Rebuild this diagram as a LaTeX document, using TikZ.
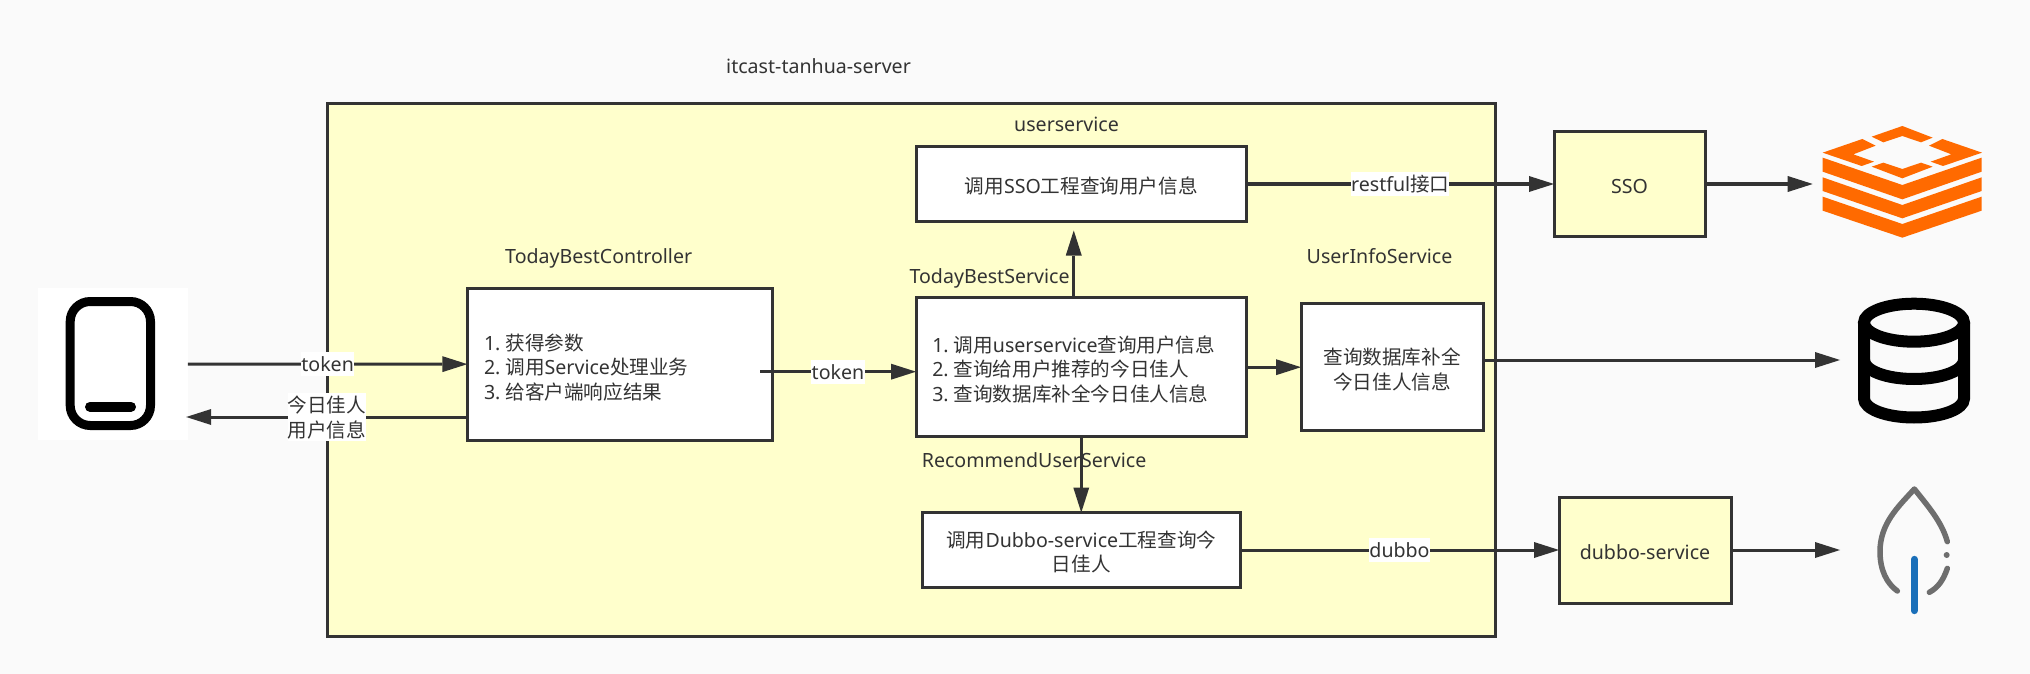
\documentclass[tikz,border=0pt]{standalone}
\usepackage{fontspec}
\setmainfont{Noto Sans}
\newfontfamily\cjk{Noto Sans CJK SC}
\newcommand{\zh}[1]{{\cjk #1}}
\newcommand{\topst}{\rule{0pt}{24pt}}
\newcommand{\botst}{\rule[-4.5pt]{0pt}{0pt}}
\newcommand{\ltop}{\rule{0pt}{19pt}}
\newcommand{\lbot}{\rule[-4pt]{0pt}{0pt}}
\newcommand{\num}[1]{#1.\hspace{5pt}}
\usetikzlibrary{arrows.meta}
\definecolor{ink}{HTML}{333333}
\definecolor{paper}{HTML}{FAFAFA}
\definecolor{pale}{HTML}{FFFFCC}
\definecolor{redisor}{HTML}{FF6A00}
\definecolor{leafgray}{HTML}{6E6E6E}
\definecolor{leafblue}{HTML}{1A6FB9}
\tikzset{
  txt/.style={font=\fontsize{19.6}{24.3}\selectfont,text=ink,inner sep=0pt},
  box/.style={txt,draw=ink,line width=3pt,fill=white,align=center,outer sep=0pt,inner sep=0pt},
  yellowbox/.style={box,fill=pale},
  conn/.style={draw=ink,line width=3pt,-{Triangle[length=25pt,width=16pt,line width=0pt]}},
  edgelab/.style={txt,fill=white,align=center,inner xsep=0pt,inner ysep=0pt},
  title/.style={txt,anchor=base west}
}
\begin{document}
\begin{tikzpicture}[x=1pt,y=-1pt]
\path[use as bounding box,fill=paper] (0,0) rectangle (2030,674);
% container
\node[yellowbox,minimum width=1167.5pt,minimum height=532.5pt] (server) at (911.25,369.75) {};
\node[title] (servertitle) at (726,73.3) {itcast-tanhua-server};
% phone
\node[fill=white,inner sep=0pt,minimum width=150pt,minimum height=152pt] (phone) at (112.7,364) {};
\draw[black,line width=9pt,rounded corners=20pt] (70.2,301.5) rectangle (150.5,425.5);
\draw[black,line width=10pt,line cap=round] (90,406.7) -- (131,406.7);
% boxes
\node[box,minimum width=304.7pt,minimum height=151.7pt,text width=271.3pt,align=left] (ctrl) at (619.65,364.15)
  {\rule{0pt}{26pt}\num{1}\zh{获得参数}\\\num{2}\zh{调用}Service\zh{处理业务}\\\num{3}\zh{给客户端响应结果}\botst};
\node[box,minimum width=330.5pt,minimum height=139pt,text width=298pt,align=left] (svc) at (1081.25,367.2)
  {\topst\num{1}\zh{调用}userservice\zh{查询用户信息}\\\num{2}\zh{查询给用户推荐的今日佳人}\\\num{3}\zh{查询数据库补全今日佳人信息}\botst};
\node[box,minimum width=330.5pt,minimum height=75pt] (ssotask) at (1081.25,184) {\topst\zh{调用}SSO\zh{工程查询用户信息}\botst};
\node[box,minimum width=317.5pt,minimum height=75pt,text width=300pt] (rec) at (1081.25,550)
  {\topst\zh{调用}Dubbo-service\zh{工程查询今}\\\zh{日佳人}\botst};
\node[box,minimum width=182pt,minimum height=126.7pt,text width=160pt] (info) at (1392,367.2)
  {\topst\zh{查询数据库补全}\\\zh{今日佳人信息}\botst};
\node[yellowbox,minimum width=151pt,minimum height=105.4pt] (sso) at (1629.5,184) {\topst SSO\botst};
\node[yellowbox,minimum width=172pt,minimum height=106pt] (dubbo) at (1645,550) {\topst dubbo-service\botst};
% titles
\node[title] (t1) at (1014,131.7) {userservice};
\node[title] (t2) at (505,263.3) {TodayBestController};
\node[title] (t3) at (909.4,283.3) {TodayBestService};
\node[title] (t4) at (1306.5,263.3) {UserInfoService};
\node[title] (t5) at (921.6,467.7) {RecommendUserService};
% icon anchors
\coordinate (redistip) at (1812.7,184);
\coordinate (dbtip) at (1840,360);
\coordinate (leaftip) at (1840,550);
% connectors
\draw[conn] (phone.east) -- node[edgelab,minimum width=53.4pt,minimum height=24pt] (l1) {\ltop token\lbot} (ctrl.west);
\draw[conn] ([shift={(0,52.85)}]ctrl.west) -- node[edgelab,minimum width=78pt,minimum height=48pt,pos=0.5] (l2) {\rule{0pt}{20pt}\zh{今日佳人}\\\zh{用户信息}\rule[-4.3pt]{0pt}{0pt}} ([shift={(-1.7,53)}]phone.east);
\draw[conn] ([shift={(-12,7.55)}]ctrl.east) -- node[edgelab,minimum width=54pt,minimum height=24pt] (l3) {\ltop token\lbot} ([shift={(0,4.5)}]svc.west);
\draw[conn] ([shift={(-7.5,0)}]svc.north) -- ([shift={(-7.5,9)}]ssotask.south);
\draw[conn] (svc.south) -- (rec.north);
\draw[conn] (svc.east) -- (info.west);
\draw[conn] (ssotask.east) -- node[edgelab,minimum width=97pt,minimum height=24pt] (l4) {\ltop restful\zh{接口}\lbot} (sso.west);
\draw[conn] (rec.east) -- node[edgelab,minimum width=61pt,minimum height=24pt] (l5) {\ltop dubbo\lbot} (dubbo.west);
\draw[conn] (sso.east) -- (redistip);
\draw[conn] ([shift={(0,-7.2)}]info.east) -- (dbtip);
\draw[conn] (dubbo.east) -- (leaftip);
% redis icon
\begin{scope}[shift={(1810,115)},x=0.33333pt,y=-0.33333pt,fill=redisor]
\fill (185,65)--(277,33)--(368,68)--(333,82)--(277,63)--(220,82)--cycle;
\fill (38,113)--(157,72)--(197,92)--(130,118)--(192,140)--(155,153)--cycle;
\fill (516,113)--(397,72)--(357,92)--(424,118)--(362,140)--(399,153)--cycle;
\fill (185,155)--(220,143)--(277,162)--(333,143)--(368,155)--(277,190)--cycle;
\fill (38,128)--(277,210)--(515,128)--(515,170)--(277,253)--(38,170)--cycle;
\fill (38,187)--(277,270)--(515,187)--(515,228)--(277,310)--(38,228)--cycle;
\fill (38,245)--(277,327)--(515,245)--(515,287)--(277,368)--(38,287)--cycle;
\end{scope}
% database icon
\draw[black,line width=12pt] (1914,322.7) ellipse [x radius=50pt,y radius=19pt];
\draw[black,line width=12pt] (1864,322.7) -- (1864,398.5) .. controls (1864,409) and (1886,417.5) .. (1914,417.5) .. controls (1942,417.5) and (1964,409) .. (1964,398.5) -- (1964,322.7);
\draw[black,line width=12pt] (1864,360) .. controls (1864,370.5) and (1886,379) .. (1914,379) .. controls (1942,379) and (1964,370.5) .. (1964,360);
% leaf icon
\begin{scope}[shift={(1860,480)},x=0.33333pt,y=-0.33333pt]
\draw[leafgray,line width=5.5pt,line cap=round,line join=round]
  (262,185) .. controls (245,125) and (205,80) .. (163,27)
  .. controls (115,80) and (60,130) .. (60,215)
  .. controls (60,270) and (80,310) .. (112,333);
\draw[leafgray,line width=5.5pt,line cap=round] (262,265) .. controls (250,300) and (235,322) .. (208,337);
\fill[leafgray] (260,225) circle [radius=9];
\draw[leafblue,line width=7pt,line cap=round] (163,238) -- (163,392);
\end{scope}
\end{tikzpicture}
\end{document}
